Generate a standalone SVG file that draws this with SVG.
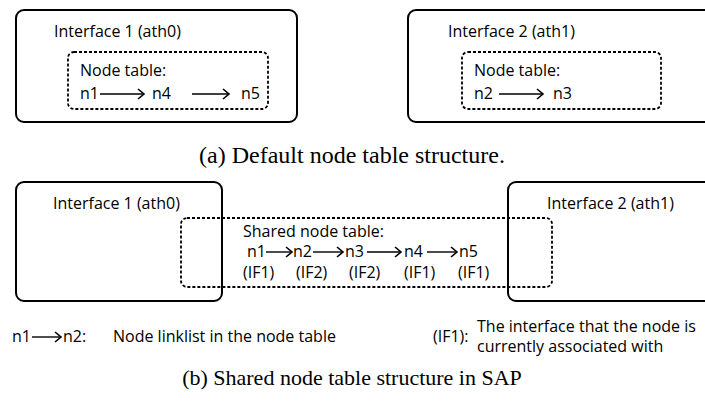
<svg xmlns="http://www.w3.org/2000/svg" width="705" height="404" viewBox="0 0 705 404">
<style>
.box{fill:none;stroke:#000;stroke-width:2}
.dbox{fill:none;stroke:#000;stroke-width:1.8;stroke-dasharray:3 2}
.t{font-family:"Open Sans","Liberation Sans",sans-serif;font-size:16px;fill:#000}
.cap{font-family:"Liberation Serif","Times New Roman",serif;fill:#000;text-anchor:middle}
.arr{stroke:#000;stroke-width:1.4;fill:none;marker-end:url(#ah)}
</style>
<defs>
<marker id="ah" markerWidth="12" markerHeight="12" refX="8" refY="6" orient="auto" markerUnits="userSpaceOnUse">
<path d="M2,1 L8,6 L2,11" fill="none" stroke="#000" stroke-width="1.6"/>
</marker>
</defs>
<g id="a-if1">
<rect class="box" x="16" y="10" width="281" height="112" rx="8"/>
<text class="t" x="54" y="37">Interface 1 (ath0)</text>
</g>
<g id="a-table1">
<rect class="dbox" x="68" y="52" width="200" height="57" rx="6"/>
<text class="t" x="80" y="76">Node table:</text>
<text class="t" x="80" y="99">n1</text>
<text class="t" x="152" y="99">n4</text>
<text class="t" x="241" y="99">n5</text>
</g>
<g id="a-if2">
<rect class="box" x="408" y="10" width="305" height="112" rx="8"/>
<text class="t" x="448" y="37">Interface 2 (ath1)</text>
</g>
<g id="a-table2">
<rect class="dbox" x="462" y="52" width="199" height="57" rx="6"/>
<text class="t" x="474" y="76">Node table:</text>
<text class="t" x="474" y="99">n2</text>
<text class="t" x="553" y="99">n3</text>
</g>
<text class="cap" x="352" y="163" font-size="24">(a) Default node table structure.</text>
<g id="b-if1">
<rect class="box" x="16" y="182" width="206" height="119" rx="8"/>
<text class="t" x="53" y="209">Interface 1 (ath0)</text>
</g>
<g id="b-if2">
<rect class="box" x="508" y="182" width="205" height="119" rx="8"/>
<text class="t" x="547" y="209">Interface 2 (ath1)</text>
</g>
<g id="b-table">
<rect class="dbox" x="181" y="218" width="371" height="69" rx="6"/>
<text class="t" x="243" y="237">Shared node table:</text>
<text class="t" x="247" y="257">n1</text>
<text class="t" x="293" y="257">n2</text>
<text class="t" x="345" y="257">n3</text>
<text class="t" x="404" y="257">n4</text>
<text class="t" x="459" y="257">n5</text>
<text class="t" x="243" y="278">(IF1)</text>
<text class="t" x="296" y="278">(IF2)</text>
<text class="t" x="349" y="278">(IF2)</text>
<text class="t" x="404" y="278">(IF1)</text>
<text class="t" x="458" y="278">(IF1)</text>
</g>
<g id="legend">
<text class="t" x="12" y="342">n1</text>
<text class="t" x="63" y="342">n2:</text>
<text class="t" x="113" y="342">Node linklist in the node table</text>
<text class="t" x="433" y="342">(IF1):</text>
<text class="t" x="477" y="332">The interface that the node is</text>
<text class="t" x="477" y="352">currently associated with</text>
</g>
<g id="connectors">
<line class="arr" x1="100" y1="94" x2="144" y2="94"/>
<line class="arr" x1="192" y1="94" x2="229" y2="94"/>
<line class="arr" x1="499" y1="94" x2="543" y2="94"/>
<line class="arr" x1="266" y1="252" x2="292" y2="252"/>
<line class="arr" x1="313" y1="252" x2="343" y2="252"/>
<line class="arr" x1="367" y1="252" x2="401" y2="252"/>
<line class="arr" x1="427" y1="252" x2="457" y2="252"/>
<line class="arr" x1="32" y1="337" x2="61" y2="337"/>
</g>
<text class="cap" x="352" y="385" font-size="22">(b) Shared node table structure in SAP</text>
</svg>
